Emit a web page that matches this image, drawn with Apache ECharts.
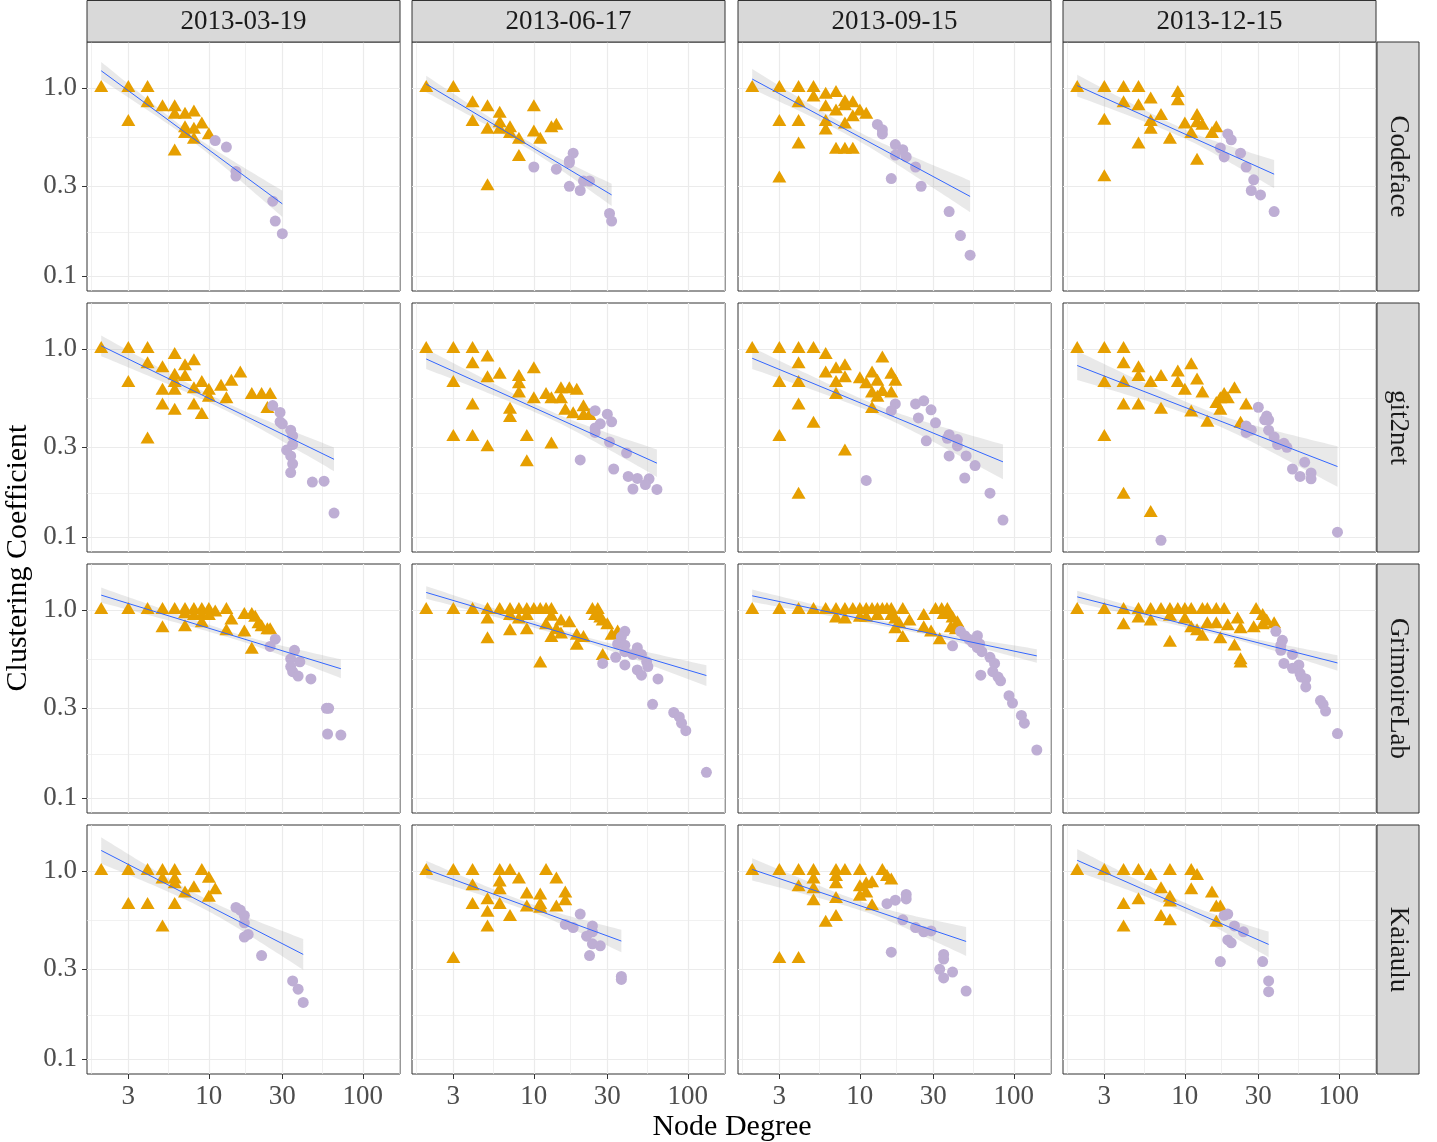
<!DOCTYPE html>
<html><head><meta charset="utf-8">
<script src="https://cdn.jsdelivr.net/npm/echarts@6/dist/echarts.min.js"></script>
<style>html,body{margin:0;padding:0;background:#fff}#c{width:1437px;height:1142px}</style>
</head><body><div id="c"></div>
<script>
// ---------------- data ----------------
const tools = ['Codeface', 'git2net', 'GrimoireLab', 'Kaiaulu'];
const dates = ['2013-03-19', '2013-06-17', '2013-09-15', '2013-12-15'];
const xTickValues = [3, 10, 30, 100];
const yTickValues = [0.1, 0.3, 1.0];
const xMinorValues = [1.73, 5.48, 17.3, 54.8, 173];
const yMinorValues = [0.173, 0.548];
const xRange = [1.617, 174.3];
const yRange = [0.0832, 1.757];
const xTitle = 'Node Degree';
const yTitle = 'Clustering Coefficient';

// [node degree, clustering coefficient]; Tri = triangles (orange), Circ = circles (purple)
const cf1Tri = [[2,1.0],[3,1.0],[4,1.0],[3,0.66],[4,0.83],[5,0.79],[6,0.79],[6,0.72],[7,0.72],[8,0.74],[7,0.61],[8,0.60],[9,0.64],[7,0.57],[8,0.53],[10,0.56],[6,0.46]];
const cf1Circ = [[11,0.525],[13,0.485],[15,0.36],[15,0.34],[26,0.25],[27,0.196],[30,0.168]];
const cf2Tri = [[2,1.0],[3,1.0],[4,0.83],[5,0.79],[4,0.66],[6,0.73],[6,0.65],[5,0.60],[6,0.60],[7,0.61],[7,0.57],[8,0.53],[10,0.79],[10,0.58],[11,0.53],[13,0.61],[14,0.63],[8,0.43],[5,0.30]];
const cf2Circ = [[10,0.38],[14,0.37],[18,0.45],[17,0.41],[17,0.40],[17,0.30],[20,0.285],[21,0.32],[23,0.32],[31,0.215],[32,0.196]];
const cf3Tri = [[2,1.0],[3,1.0],[4,1.0],[5,1.0],[6,0.92],[7,0.94],[5,0.89],[4,0.83],[6,0.79],[7,0.75],[8,0.84],[9,0.83],[8,0.80],[10,0.75],[11,0.72],[9,0.70],[3,0.66],[4,0.66],[6,0.66],[6,0.595],[8,0.64],[4,0.50],[7,0.47],[8,0.47],[9,0.47],[3,0.33]];
const cf3Circ = [[13,0.64],[14,0.60],[14,0.57],[17,0.50],[19,0.47],[17,0.44],[20,0.43],[23,0.38],[16,0.33],[25,0.30],[38,0.22],[45,0.164],[52,0.129]];
const cf4Tri = [[2,1.0],[3,1.0],[4,1.0],[5,1.0],[4,0.83],[5,0.80],[6,0.87],[9,0.94],[9,0.85],[7,0.71],[6,0.66],[6,0.60],[8,0.53],[5,0.50],[10,0.64],[12,0.71],[12,0.65],[13,0.63],[11,0.57],[15,0.57],[16,0.61],[12,0.41],[3,0.67],[3,0.335]];
const cf4Circ = [[19,0.57],[20,0.53],[17,0.48],[18,0.43],[23,0.45],[25,0.38],[28,0.325],[27,0.285],[31,0.27],[38,0.22]];

const g1Tri = [[2,1.0],[3,1.0],[4,1.0],[6,0.93],[4,0.83],[8,0.86],[7,0.81],[5,0.79],[6,0.72],[7,0.71],[3,0.66],[6,0.66],[5,0.60],[6,0.60],[8,0.61],[9,0.66],[10,0.60],[10,0.55],[12,0.63],[14,0.67],[16,0.74],[13,0.54],[5,0.50],[6,0.47],[8,0.50],[9,0.445],[19,0.57],[22,0.57],[25,0.57],[24,0.48],[4,0.33]];
const g1Circ = [[26,0.50],[29,0.46],[29,0.41],[30,0.40],[34,0.37],[35,0.345],[35,0.31],[32,0.29],[34,0.27],[35,0.245],[34,0.22],[47,0.196],[56,0.198],[65,0.134]];
const g2Tri = [[2,1.0],[3,1.0],[4,1.0],[5,0.90],[4,0.83],[10,0.78],[6,0.73],[5,0.70],[8,0.71],[8,0.65],[3,0.66],[8,0.58],[10,0.54],[12,0.57],[13,0.54],[15,0.61],[17,0.61],[19,0.60],[15,0.54],[16,0.47],[18,0.45],[21,0.49],[21,0.44],[23,0.44],[7,0.475],[7,0.43],[4,0.50],[3,0.34],[4,0.34],[5,0.30],[9,0.34],[13,0.31],[9,0.25]];
const g2Circ = [[25,0.47],[30,0.45],[27,0.40],[32,0.41],[25,0.38],[25,0.36],[31,0.32],[40,0.28],[20,0.257],[33,0.23],[41,0.21],[47,0.205],[56,0.204],[44,0.18],[53,0.19],[63,0.179]];
const g3Tri = [[2,1.0],[3,1.0],[4,1.0],[5,1.0],[6,0.93],[14,0.89],[4,0.83],[8,0.81],[7,0.78],[6,0.74],[8,0.70],[7,0.66],[10,0.69],[12,0.74],[11,0.65],[13,0.67],[16,0.73],[17,0.67],[3,0.66],[4,0.66],[7,0.57],[12,0.58],[13,0.55],[14,0.59],[16,0.58],[12,0.48],[4,0.50],[5,0.40],[3,0.34],[8,0.285],[4,0.168]];
const g3Circ = [[17,0.51],[16,0.47],[23,0.51],[26,0.53],[29,0.475],[24,0.43],[31,0.405],[27,0.325],[38,0.35],[37,0.335],[43,0.33],[43,0.305],[38,0.27],[49,0.27],[56,0.24],[48,0.206],[11,0.20],[70,0.171],[85,0.123]];
const g4Tri = [[2,1.0],[3,1.0],[4,1.0],[4,0.83],[5,0.79],[11,0.82],[9,0.75],[5,0.71],[7,0.71],[6,0.66],[9,0.66],[12,0.68],[3,0.66],[4,0.66],[10,0.60],[13,0.58],[21,0.61],[18,0.57],[17,0.54],[19,0.54],[16,0.51],[17,0.47],[25,0.50],[11,0.46],[14,0.405],[23,0.40],[4,0.50],[5,0.50],[7,0.475],[3,0.34],[4,0.168],[6,0.134]];
const g4Circ = [[30,0.49],[34,0.44],[33,0.42],[35,0.42],[25,0.39],[27,0.37],[25,0.36],[35,0.37],[38,0.34],[40,0.31],[44,0.315],[46,0.30],[60,0.25],[50,0.23],[56,0.21],[66,0.219],[66,0.204],[7,0.096],[98,0.106]];

const gl1Tri = [[2,1],[3,1],[4,1],[5,1],[6,1],[7,1],[8,1],[9,1],[10,1],[11,0.97],[13,1],[7,0.95],[8,0.93],[9,0.93],[10,0.93],[17,0.94],[19,0.94],[20,0.91],[21,0.84],[22,0.81],[24,0.78],[25,0.78],[5,0.80],[7,0.81],[9,0.85],[14,0.88],[13,0.77],[17,0.76],[19,0.615]];
const gl1Circ = [[27,0.70],[25,0.64],[36,0.61],[34,0.55],[39,0.53],[34,0.50],[35,0.47],[38,0.445],[46,0.43],[58,0.30],[60,0.30],[59,0.219],[72,0.216]];
const gl2Tri = [[2,1],[3,1],[4,1],[5,1],[6,1],[7,1],[8,1],[9,1],[10,1],[11,1],[12,1],[13,1],[24,1],[26,1],[5,0.89],[7,0.93],[8,0.89],[9,0.93],[13,0.92],[15,0.87],[17,0.85],[25,0.93],[27,0.90],[28,0.87],[30,0.83],[12,0.83],[9,0.78],[7,0.77],[14,0.78],[15,0.74],[13,0.71],[19,0.73],[21,0.71],[19,0.645],[5,0.70],[32,0.73],[35,0.76],[28,0.57],[11,0.52]];
const gl2Circ = [[39,0.77],[37,0.72],[35,0.66],[39,0.65],[39,0.60],[44,0.58],[47,0.63],[50,0.58],[34,0.56],[28,0.52],[39,0.51],[54,0.53],[55,0.50],[47,0.48],[50,0.45],[64,0.43],[59,0.315],[81,0.285],[88,0.27],[91,0.25],[97,0.228],[132,0.137]];
const gl3Tri = [[2,1],[3,1],[4,1],[5,1],[6,1],[7,1],[8,1],[9,1],[10,1],[11,1],[12,1],[13,1],[14,1],[15,1],[16,1],[19,1],[7,0.90],[8,0.89],[10,0.91],[11,0.91],[13,0.93],[16,0.93],[17,0.89],[21,0.87],[18,0.84],[17,0.79],[19,0.71],[26,0.93],[31,1],[34,1],[37,1],[35,0.94],[38,0.94],[40,0.90],[43,0.85],[26,0.80],[29,0.76],[33,0.69],[39,0.80],[42,0.78]];
const gl3Circ = [[45,0.77],[48,0.73],[51,0.70],[58,0.73],[54,0.67],[60,0.66],[58,0.63],[62,0.60],[40,0.645],[70,0.56],[75,0.52],[61,0.45],[73,0.47],[79,0.44],[82,0.42],[93,0.35],[98,0.32],[112,0.275],[117,0.25],[141,0.18]];
const gl4Tri = [[2,1],[3,1],[4,1],[5,1],[6,1],[7,1],[8,1],[9,1],[10,1],[11,1],[13,1],[14,1],[16,1],[18,1],[29,1],[4,0.83],[5,0.90],[6,0.87],[8,0.92],[10,0.89],[11,0.80],[12,0.77],[13,0.72],[14,0.84],[16,0.84],[19,0.82],[22,0.89],[23,0.79],[28,0.80],[17,0.70],[21,0.64],[23,0.54],[23,0.52],[8,0.67],[32,0.93],[34,0.87],[38,0.84],[32,0.83]];
const gl4Circ = [[39,0.77],[43,0.69],[42,0.65],[42,0.61],[50,0.58],[44,0.52],[55,0.51],[50,0.49],[56,0.46],[57,0.44],[61,0.43],[61,0.39],[76,0.33],[79,0.315],[82,0.29],[98,0.22]];

const k1Tri = [[2,1],[3,1],[4,1],[5,1],[6,1],[9,1],[5,0.90],[6,0.90],[6,0.85],[8,0.81],[7,0.76],[10,0.91],[11,0.79],[10,0.72],[3,0.66],[4,0.66],[6,0.66],[5,0.50]];
const k1Circ = [[15,0.64],[16,0.62],[17,0.58],[17,0.53],[18,0.46],[17,0.445],[22,0.355],[35,0.26],[38,0.235],[41,0.20]];
const k2Tri = [[2,1],[3,1],[4,1],[6,1],[7,1],[12,1],[4,0.83],[6,0.87],[6,0.79],[8,0.90],[14,0.90],[9,0.75],[11,0.74],[16,0.76],[16,0.69],[5,0.70],[4,0.66],[6,0.66],[11,0.66],[9,0.64],[11,0.63],[14,0.64],[5,0.60],[7,0.57],[5,0.50],[3,0.34]];
const k2Circ = [[20,0.59],[16,0.52],[18,0.50],[24,0.51],[24,0.475],[22,0.45],[24,0.41],[27,0.40],[23,0.355],[37,0.275],[37,0.265]];
const k3Tri = [[2,1],[3,1],[4,1],[5,1],[7,1],[8,1],[10,1],[14,1],[5,0.90],[7,0.93],[7,0.85],[4,0.82],[5,0.80],[10,0.82],[11,0.85],[12,0.86],[15,0.93],[16,0.89],[10,0.73],[11,0.76],[5,0.69],[7,0.71],[12,0.65],[7,0.57],[6,0.53],[3,0.34],[4,0.34]];
const k3Circ = [[20,0.75],[20,0.71],[17,0.70],[15,0.67],[19,0.55],[23,0.50],[26,0.475],[29,0.48],[16,0.37],[35,0.36],[35,0.34],[33,0.30],[40,0.29],[35,0.27],[49,0.23]];
const k4Tri = [[2,1],[3,1],[4,1],[5,1],[8,1],[11,1],[6,0.94],[12,0.94],[7,0.80],[11,0.79],[15,0.76],[4,0.66],[5,0.70],[8,0.72],[8,0.68],[7,0.57],[8,0.54],[16,0.64],[17,0.64],[16,0.53],[4,0.50]];
const k4Circ = [[18,0.58],[19,0.59],[21,0.51],[24,0.475],[19,0.43],[20,0.415],[17,0.33],[32,0.33],[35,0.26],[35,0.228]];

// Linear smooth, per panel (row-major):
// [fitted value at lowest degree, fitted value at highest degree,
//  band half-width (log10 units) at lowest degree, narrowest half-width, half-width at highest degree]
const smoothFits = [
  [1.235, 0.242, 0.047, 0.019, 0.070],
  [1.05,  0.270, 0.044, 0.020, 0.059],
  [1.116, 0.265, 0.053, 0.024, 0.084],
  [1.03,  0.348, 0.058, 0.024, 0.075],
  [1.04,  0.259, 0.055, 0.021, 0.063],
  [0.885, 0.247, 0.053, 0.021, 0.073],
  [0.893, 0.251, 0.057, 0.024, 0.092],
  [0.817, 0.237, 0.077, 0.029, 0.108],
  [1.20,  0.487, 0.040, 0.017, 0.050],
  [1.24,  0.448, 0.033, 0.015, 0.055],
  [1.19,  0.570, 0.033, 0.012, 0.036],
  [1.175, 0.523, 0.032, 0.013, 0.041],
  [1.286, 0.360, 0.070, 0.029, 0.082],
  [1.02,  0.424, 0.046, 0.021, 0.060],
  [1.02,  0.422, 0.059, 0.024, 0.077],
  [1.14,  0.407, 0.060, 0.026, 0.068]
];

const panelData = [
  [cf1Tri, cf1Circ], [cf2Tri, cf2Circ], [cf3Tri, cf3Circ], [cf4Tri, cf4Circ],
  [g1Tri, g1Circ], [g2Tri, g2Circ], [g3Tri, g3Circ], [g4Tri, g4Circ],
  [gl1Tri, gl1Circ], [gl2Tri, gl2Circ], [gl3Tri, gl3Circ], [gl4Tri, gl4Circ],
  [k1Tri, k1Circ], [k2Tri, k2Circ], [k3Tri, k3Circ], [k4Tri, k4Circ]
];

// ---------------- layout / style ----------------
const FONT = '"Liberation Serif", "DejaVu Serif", serif';
const L = [87, 412, 738, 1063];
const T = [42, 303, 564, 825];
const W = 313, H = 249;
const COL_TRI = '#E69F00', COL_CIRC = '#BEAED4';

// straight smooth in log-log space, band narrowest at the mean log-degree of the panel
function smoothGeometry(points, fit) {
  const X = points.map(p => Math.log10(p[0]));
  const u0 = Math.min(...X), u1 = Math.max(...X);
  const um = X.reduce((a, b) => a + b, 0) / X.length;
  const f0 = Math.log10(fit[0]), f1 = Math.log10(fit[1]);
  const [h0, hm, h1] = [fit[2], fit[3], fit[4]];
  const upper = [], lower = [];
  const steps = 60;
  for (let k = 0; k <= steps; k++) {
    const u = u0 + (u1 - u0) * k / steps;
    const f = f0 + (f1 - f0) * (u - u0) / (u1 - u0);
    let h;
    if (u < um) { const r = (um - u) / (um - u0); h = Math.sqrt(hm*hm + (h0*h0 - hm*hm) * r * r); }
    else { const r = (u - um) / (u1 - um); h = Math.sqrt(hm*hm + (h1*h1 - hm*hm) * r * r); }
    upper.push([10**u, 10**(f + h)]);
    lower.push([10**u, 10**(f - h)]);
  }
  return {line: [[10**u0, fit[0]], [10**u1, fit[1]]], upper, lower};
}

const grids = [], xAxes = [], yAxes = [], series = [], graphics = [];
const gridLineData = [];
xTickValues.forEach(v => gridLineData.push({xAxis: v, lineStyle: {width: 1.2}}));
xMinorValues.forEach(v => gridLineData.push({xAxis: v, lineStyle: {width: 0.7}}));
yTickValues.forEach(v => gridLineData.push({yAxis: v, lineStyle: {width: 1.2}}));
yMinorValues.forEach(v => gridLineData.push({yAxis: v, lineStyle: {width: 0.7}}));

panelData.forEach((pd, i) => {
  const r = Math.floor(i / 4), c = i % 4;
  grids.push({left: L[c], top: T[r], width: W, height: H, show: true, backgroundColor: '#fff',
              borderColor: '#333333', borderWidth: 1, containLabel: false});
  xAxes.push({
    gridIndex: i, type: 'log', logBase: 10, min: xRange[0], max: xRange[1],
    axisLine: {show: false}, splitLine: {show: false}, minorTick: {show: false}, minorSplitLine: {show: false},
    axisTick: {show: r === 3, customValues: xTickValues, length: 5, inside: false, lineStyle: {color: '#333333', width: 1}},
    axisLabel: {show: r === 3, customValues: xTickValues, margin: 9, color: '#4D4D4D', fontFamily: FONT, fontSize: 27,
                formatter: v => String(Math.round(v))}
  });
  yAxes.push({
    gridIndex: i, type: 'log', logBase: 10, min: yRange[0], max: yRange[1],
    axisLine: {show: false}, splitLine: {show: false}, minorTick: {show: false}, minorSplitLine: {show: false},
    axisTick: {show: c === 0, customValues: yTickValues, length: 5, lineStyle: {color: '#333333', width: 1}},
    axisLabel: {show: c === 0, customValues: yTickValues, margin: 10, color: '#4D4D4D', fontFamily: FONT, fontSize: 27,
                formatter: v => (Math.round(v * 10) / 10).toFixed(1)}
  });
  // grid lines
  series.push({type: 'scatter', xAxisIndex: i, yAxisIndex: i, data: [[10, 0.5]], symbolSize: 0, silent: true, z: 1,
    markLine: {silent: true, symbol: ['none', 'none'], label: {show: false}, animation: false, z: 1,
               lineStyle: {color: '#EBEBEB', type: 'solid'}, data: gridLineData}});
  const all = pd[0].concat(pd[1]);
  const geo = smoothGeometry(all, smoothFits[i]);
  // confidence band
  series.push({type: 'custom', xAxisIndex: i, yAxisIndex: i, z: 2, silent: true,
    data: [[10, 0.5]],
    renderItem: (params, api) => {
      const pts = geo.upper.map(p => api.coord(p)).concat(geo.lower.slice().reverse().map(p => api.coord(p)));
      return {type: 'polygon', shape: {points: pts}, style: {fill: 'rgba(153,153,153,0.22)'}};
    }
  });
  series.push({type: 'scatter', xAxisIndex: i, yAxisIndex: i, data: pd[0], symbol: 'triangle',
    symbolSize: [14, 12], symbolOffset: [0, -2], itemStyle: {color: COL_TRI, opacity: 1}, z: 3, silent: true});
  series.push({type: 'scatter', xAxisIndex: i, yAxisIndex: i, data: pd[1], symbol: 'circle',
    symbolSize: 11, itemStyle: {color: COL_CIRC, opacity: 1}, z: 3, silent: true});
  series.push({type: 'line', xAxisIndex: i, yAxisIndex: i, data: geo.line,
    showSymbol: false, symbol: 'none', lineStyle: {color: '#3366FF', width: 1}, z: 4, silent: true});
});

// strips
dates.forEach((d, c) => {
  graphics.push({type: 'rect', shape: {x: L[c], y: 0.5, width: W, height: 41.5},
    style: {fill: '#D9D9D9', stroke: '#333333', lineWidth: 1}, z: 10});
  graphics.push({type: 'text', x: L[c] + W/2, y: 22, z: 11,
    style: {text: d, fill: '#1A1A1A', font: '27px ' + FONT, textAlign: 'center', textVerticalAlign: 'middle', align: 'center', verticalAlign: 'middle'}});
});
tools.forEach((t, r) => {
  graphics.push({type: 'rect', shape: {x: 1377, y: T[r], width: 42, height: H},
    style: {fill: '#D9D9D9', stroke: '#333333', lineWidth: 1}, z: 10});
  graphics.push({type: 'text', x: 1398, y: T[r] + H/2, rotation: -Math.PI/2, z: 11,
    style: {text: t, fill: '#1A1A1A', font: '27px ' + FONT, textAlign: 'center', textVerticalAlign: 'middle', align: 'center', verticalAlign: 'middle'}});
});
graphics.push({type: 'text', x: 732, y: 1127, z: 11,
  style: {text: xTitle, fill: '#000', font: '30px ' + FONT, textAlign: 'center', textVerticalAlign: 'middle', align: 'center', verticalAlign: 'middle'}});
graphics.push({type: 'text', x: 18, y: 558, rotation: Math.PI/2, z: 11,
  style: {text: yTitle, fill: '#000', font: '30px ' + FONT, textAlign: 'center', textVerticalAlign: 'middle', align: 'center', verticalAlign: 'middle'}});

const chart = echarts.init(document.getElementById('c'), null, {renderer: 'canvas'});
chart.setOption({
  animation: false,
  backgroundColor: '#fff',
  grid: grids, xAxis: xAxes, yAxis: yAxes, series: series, graphic: graphics
});
</script></body></html>
